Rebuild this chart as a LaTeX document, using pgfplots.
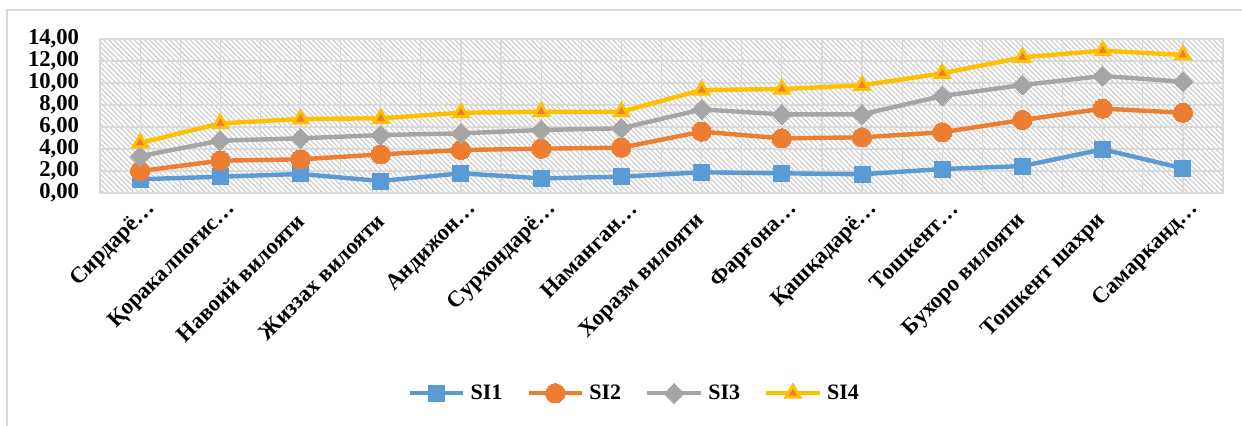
\documentclass[border=0pt]{standalone}
\usepackage{fontspec}
\setmainfont{Liberation Serif}
\usepackage{pgfplots}
\pgfplotsset{compat=1.18}
\usetikzlibrary{patterns.meta}
\definecolor{cA}{HTML}{5B9BD5}
\definecolor{cB}{HTML}{ED7D31}
\definecolor{cC}{HTML}{A5A5A5}
\definecolor{cD}{HTML}{FFC000}
\definecolor{gridc}{HTML}{D9D9D9}
\newcommand{\fl}[1]{#1\hspace*{13pt}\null}
\begin{document}
\begin{tikzpicture}
\useasboundingbox (0,0) rectangle (931.5pt,318.75pt);
\draw[gridc, line width=0.9pt] (5.25pt,-20pt) -- (5.25pt,311.25pt) -- (950pt,311.25pt);
\begin{axis}[
  at={(75pt,174pt)}, anchor=south west,
  scale only axis, width=842.25pt, height=115.5pt,
  xmin=-0.5, xmax=13.5, ymin=0, ymax=14,
  xtick={0,...,13},
  minor xtick={-0.5,0.5,...,13.5},
  ytick={0,2,...,14},
  xticklabels={Сирдарё…,Қоракалпоғис…,\fl{Навоий вилояти},\fl{Жиззах вилояти},Андижон…,Сурхондарё…,Наманган…,\fl{Хоразм вилояти},Фарғона…,Қашқадарё…,Тошкент…,\fl{Бухоро вилояти},\fl{Тошкент шахри},Самарканд…},
  grid=both,
  major grid style={draw=gridc, line width=0.9pt},
  minor grid style={draw=gridc, line width=0.9pt},
  major tick length=0pt, minor tick length=0pt,
  axis line style={draw=gridc, line width=1pt},
  axis background/.style={pattern={Lines[angle=-45,distance=2.7pt,line width=1pt]}, pattern color=gray!35},
  /pgf/number format/.cd, fixed, fixed zerofill, precision=2, use comma, assume math mode=true,
  /pgfplots/.cd,
  tick label style={font=\fontsize{17}{20}\selectfont\bfseries},
  yticklabel style={anchor=east, inner sep=0pt, xshift=-15.5pt},
  xticklabel style={rotate=45, anchor=east, inner sep=0pt, yshift=-13pt},
  clip=false,
  legend columns=4,
  legend style={draw=none, fill=none, at={(0.476,-1.30)}, anchor=center,
    font=\fontsize{16.5}{19}\selectfont\bfseries,
    /tikz/every even column/.append style={column sep=16pt},
    /tikz/every odd column/.append style={column sep=2pt}},
  legend image code/.code={\draw[mark repeat=2,mark phase=2,#1] plot coordinates {(0pt,0pt)(20pt,0pt)(40pt,0pt)};},
]
\addplot[cA, line width=3.3pt, mark=square*, mark size=6pt, mark options={solid, line width=0pt, fill=cA}] coordinates {
(0,1.25)(1,1.48)(2,1.73)(3,1.09)(4,1.79)(5,1.33)(6,1.48)(7,1.88)(8,1.79)(9,1.70)(10,2.18)(11,2.45)(12,3.97)(13,2.24)};
\addlegendentry{SI1}
\addplot[cB, line width=3.3pt, mark=*, mark size=7.2pt, mark options={solid, line width=0pt, fill=cB}] coordinates {
(0,2.00)(1,2.94)(2,3.06)(3,3.51)(4,3.91)(5,4.03)(6,4.12)(7,5.58)(8,4.97)(9,5.06)(10,5.52)(11,6.64)(12,7.67)(13,7.30)};
\addlegendentry{SI2}
\addplot[cC, line width=3.3pt, mark=square*, mark size=5.3pt, mark options={solid, rotate=45, line width=0pt, fill=cC}] coordinates {
(0,3.35)(1,4.76)(2,4.97)(3,5.27)(4,5.42)(5,5.73)(6,5.88)(7,7.60)(8,7.15)(9,7.15)(10,8.82)(11,9.82)(12,10.64)(13,10.12)};
\addlegendentry{SI3}
\addplot[cD, line width=3.3pt, mark=triangle*, mark size=6pt, mark options={solid, line width=2.2pt, draw=cD, fill=cB}] coordinates {
(0,4.55)(1,6.33)(2,6.73)(3,6.79)(4,7.30)(5,7.39)(6,7.39)(7,9.36)(8,9.45)(9,9.79)(10,10.88)(11,12.33)(12,12.94)(13,12.55)};
\addlegendentry{SI4}
\end{axis}
\end{tikzpicture}
\end{document}
